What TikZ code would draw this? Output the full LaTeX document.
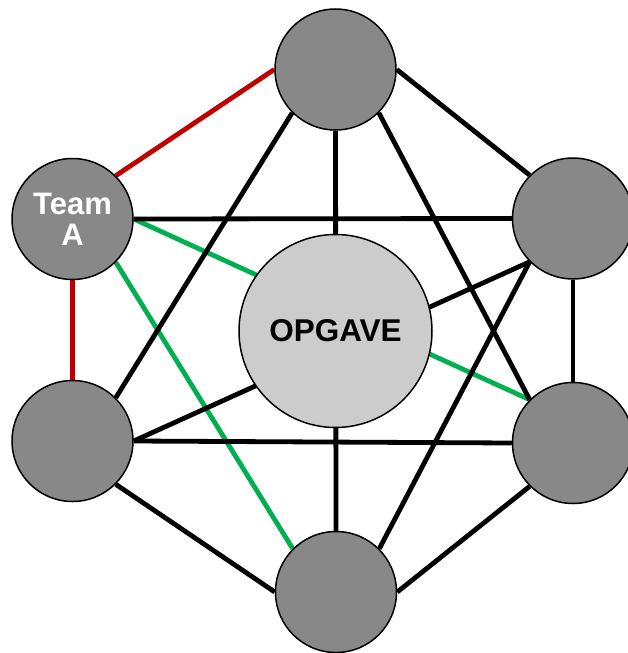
\documentclass[tikz,border=0pt]{standalone}
\usepackage{fontspec}
\setmainfont{Liberation Sans}
\usetikzlibrary{backgrounds}
\definecolor{outergray}{HTML}{888888}
\definecolor{innergray}{HTML}{CCCCCC}
\definecolor{linkred}{HTML}{C00000}
\definecolor{linkgreen}{HTML}{00B050}
\tikzset{
  teamnode/.style={circle, draw=black, line width=1.5pt, fill=outergray, minimum size=121pt, inner sep=0pt, text=white, align=center, font=\bfseries\fontsize{31}{31}\selectfont},
  tasknode/.style={circle, draw=black, line width=1.5pt, fill=innergray, minimum size=193pt, inner sep=0pt, font=\bfseries\fontsize{31.5}{31}\selectfont},
  link/.style={line width=4.8pt, draw=black},
  redlink/.style={line width=4.8pt, draw=linkred},
  greenlink/.style={line width=4.8pt, draw=linkgreen}
}
\begin{document}
\begin{tikzpicture}[x=1pt,y=-1pt]
\useasboundingbox (0,0) rectangle (628,653);
\node[tasknode] (c) at (335.5,331) {OPGAVE};
\node[teamnode] (t) at (335.5,69.5) {};
\node[teamnode] (a) at (72.5,219) {Team\\A};
\node[teamnode] (rt) at (573,218.5) {};
\node[teamnode] (lb) at (72.5,441) {};
\node[teamnode] (rb) at (573,443) {};
\node[teamnode] (b) at (336,592) {};
\begin{scope}[on background layer]
\draw[redlink] (a.north east) -- (t.west);
\draw[redlink] (a.south) -- (lb.north);
\draw[greenlink] (a.east) -- (rb.north west);
\draw[greenlink] (a.south east) -- (b.north west);
\draw[link] (a.east) -- (rt.west);
\draw[link] (t.east) -- (rt.north west);
\draw[link] (t.south west) -- (lb.north east);
\draw[link] (t.south east) -- (rb.north west);
\draw[link] (t.south) -- (b.north);
\draw[link] (rt.south) -- (rb.north);
\draw[link] (rt.south west) -- (lb.east);
\draw[link] (rt.south west) -- (b.north east);
\draw[link] (lb.east) -- (rb.west);
\draw[link] (lb.south east) -- (b.west);
\draw[link] (rb.south west) -- (b.east);
\end{scope}
\end{tikzpicture}
\end{document}
